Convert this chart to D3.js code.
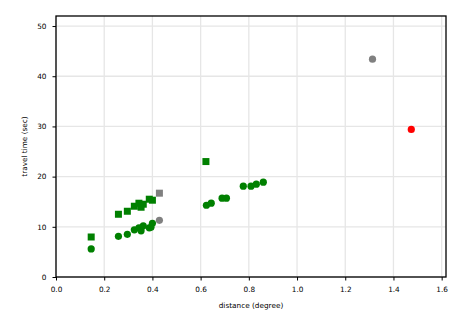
<!DOCTYPE html>
<html><head><meta charset="utf-8">
<script src="https://cdn.jsdelivr.net/npm/d3@7"></script>
<style>body{margin:0;background:#fff}svg{display:block}</style>
</head><body>
<script>
// P-wave (squares) and S-wave (circles) travel times
const squareDist = [0.146,0.259,0.296,0.325,0.344,0.353,0.362,0.387,0.400,0.622];
const squareTime = [7.97,12.5,13.1,14.1,14.7,13.9,14.5,15.5,15.3,23.0];
const circleDist = [0.146,0.259,0.296,0.325,0.344,0.353,0.362,0.387,0.394,0.400,0.624,0.644,0.689,0.707,0.777,0.809,0.831,0.860];
const circleTime = [5.6,8.1,8.5,9.4,9.8,9.2,10.2,9.8,9.9,10.7,14.3,14.7,15.7,15.7,18.1,18.1,18.5,18.9];
const graySquareDist = [0.429], graySquareTime = [16.7];
const grayCircleDist = [0.429,1.313], grayCircleTime = [11.3,43.4];
const redCircleDist = [1.474], redCircleTime = [29.4];
const xTicks = [0,0.2,0.4,0.6,0.8,1.0,1.2,1.4,1.6];
const yTicks = [0,10,20,30,40,50];

const W=465,H=315, L=56, R=446, T=16, B=277;
const svg=d3.select("body").append("svg").attr("width",W).attr("height",H);
const x=d3.scaleLinear().domain([0,1.618]).range([L,R]);
const y=d3.scaleLinear().domain([0,52]).range([B,T]);
const font="DejaVu Sans";

// grid
svg.append("g").selectAll("line").data(xTicks).join("line")
 .attr("x1",d=>x(d)).attr("x2",d=>x(d)).attr("y1",T).attr("y2",B)
 .attr("stroke","#e6e6e6").attr("stroke-width",1.3);
svg.append("g").selectAll("line").data(yTicks).join("line")
 .attr("y1",d=>y(d)).attr("y2",d=>y(d)).attr("x1",L).attr("x2",R)
 .attr("stroke","#e6e6e6").attr("stroke-width",1.3);

function pts(dx,dy){return dx.map((d,i)=>({x:d,y:dy[i]}));}
const sq=7;
function squares(data,col){
 svg.append("g").selectAll("rect").data(data).join("rect")
  .attr("x",d=>x(d.x)-sq/2).attr("y",d=>y(d.y)-sq/2).attr("width",sq).attr("height",sq).attr("fill",col);
}
function circles(data,col){
 svg.append("g").selectAll("circle").data(data).join("circle")
  .attr("cx",d=>x(d.x)).attr("cy",d=>y(d.y)).attr("r",3.6).attr("fill",col);
}
squares(pts(squareDist,squareTime),"#008000");
circles(pts(circleDist,circleTime),"#008000");
squares(pts(graySquareDist,graySquareTime),"#808080");
circles(pts(grayCircleDist,grayCircleTime),"#808080");
circles(pts(redCircleDist,redCircleTime),"#ff0000");

// frame
svg.append("rect").attr("x",L).attr("y",T).attr("width",R-L).attr("height",B-T)
 .attr("fill","none").attr("stroke","#000").attr("stroke-width",1.3);

const xa=svg.append("g").attr("transform",`translate(0,${B})`)
 .call(d3.axisBottom(x).tickValues(xTicks).tickFormat(d3.format(".1f")).tickSize(3.5).tickPadding(6));
const ya=svg.append("g").attr("transform",`translate(${L},0)`)
 .call(d3.axisLeft(y).tickValues(yTicks).tickFormat(d3.format("d")).tickSize(3.5).tickPadding(6));
[xa,ya].forEach(a=>{a.select(".domain").remove();a.selectAll("text").attr("font-family",font).attr("font-size",7.3).attr("fill","#000");a.selectAll("line").attr("stroke","#000");});

svg.append("text").attr("x",(L+R)/2).attr("y",308).attr("text-anchor","middle")
 .attr("font-family",font).attr("font-size",7.3).text("distance (degree)");
svg.append("text").attr("transform",`translate(27,${(T+B)/2}) rotate(-90)`).attr("text-anchor","middle")
 .attr("font-family",font).attr("font-size",7.3).text("travel time (sec)");
</script>
</body></html>
